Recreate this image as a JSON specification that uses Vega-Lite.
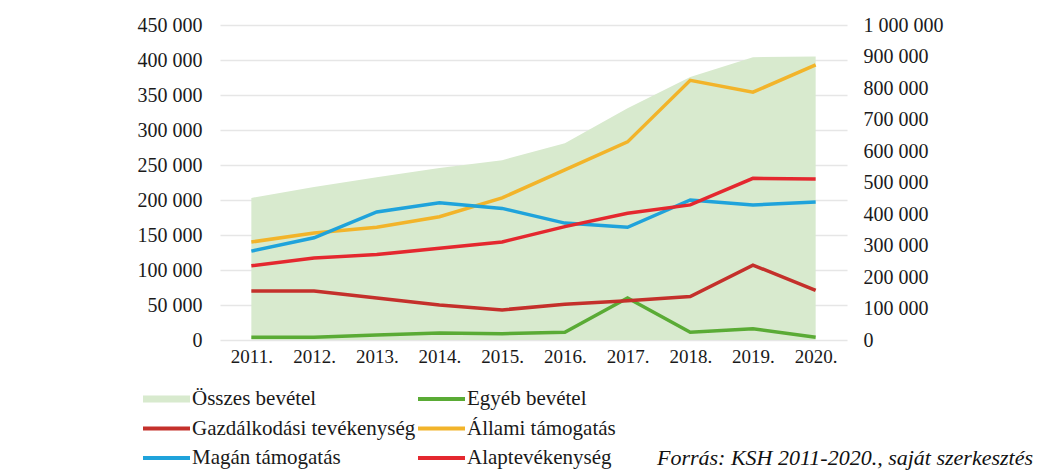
{
  "$schema": "https://vega.github.io/schema/vega-lite/v6.json",
  "width": 627,
  "height": 315,
  "autosize": "none",
  "padding": {"left": 220, "top": 25, "right": 214, "bottom": 131},
  "background": "white",
  "config": {
    "view": {"stroke": null},
    "font": "Liberation Serif",
    "axis": {"labelFont": "Liberation Serif", "labelFontSize": 20, "labelColor": "#1a1a1a", "domain": false, "ticks": false, "title": null}
  },
  "title": {
    "text": "Forrás: KSH 2011-2020., saját szerkesztés",
    "orient": "bottom",
    "anchor": "end",
    "frame": "group",
    "dx": 186,
    "offset": -20,
    "font": "Liberation Serif",
    "fontSize": 22,
    "fontStyle": "italic",
    "fontWeight": "normal",
    "color": "#111111"
  },
  "data": {
    "values": [
      {"year": "2011.", "series": "Összes bevétel", "value": 451000},
      {"year": "2012.", "series": "Összes bevétel", "value": 486000},
      {"year": "2013.", "series": "Összes bevétel", "value": 517000},
      {"year": "2014.", "series": "Összes bevétel", "value": 546000},
      {"year": "2015.", "series": "Összes bevétel", "value": 571000},
      {"year": "2016.", "series": "Összes bevétel", "value": 625000},
      {"year": "2017.", "series": "Összes bevétel", "value": 736000},
      {"year": "2018.", "series": "Összes bevétel", "value": 835000},
      {"year": "2019.", "series": "Összes bevétel", "value": 898000},
      {"year": "2020.", "series": "Összes bevétel", "value": 900000},

      {"year": "2011.", "series": "Egyéb bevétel", "value": 4000},
      {"year": "2012.", "series": "Egyéb bevétel", "value": 4000},
      {"year": "2013.", "series": "Egyéb bevétel", "value": 7000},
      {"year": "2014.", "series": "Egyéb bevétel", "value": 10000},
      {"year": "2015.", "series": "Egyéb bevétel", "value": 9000},
      {"year": "2016.", "series": "Egyéb bevétel", "value": 11000},
      {"year": "2017.", "series": "Egyéb bevétel", "value": 60000},
      {"year": "2018.", "series": "Egyéb bevétel", "value": 11000},
      {"year": "2019.", "series": "Egyéb bevétel", "value": 16000},
      {"year": "2020.", "series": "Egyéb bevétel", "value": 4000},

      {"year": "2011.", "series": "Gazdálkodási tevékenység", "value": 70000},
      {"year": "2012.", "series": "Gazdálkodási tevékenység", "value": 70000},
      {"year": "2013.", "series": "Gazdálkodási tevékenység", "value": 60000},
      {"year": "2014.", "series": "Gazdálkodási tevékenység", "value": 50000},
      {"year": "2015.", "series": "Gazdálkodási tevékenység", "value": 43000},
      {"year": "2016.", "series": "Gazdálkodási tevékenység", "value": 51000},
      {"year": "2017.", "series": "Gazdálkodási tevékenység", "value": 56000},
      {"year": "2018.", "series": "Gazdálkodási tevékenység", "value": 62000},
      {"year": "2019.", "series": "Gazdálkodási tevékenység", "value": 107000},
      {"year": "2020.", "series": "Gazdálkodási tevékenység", "value": 71000},

      {"year": "2011.", "series": "Állami támogatás", "value": 140000},
      {"year": "2012.", "series": "Állami támogatás", "value": 153000},
      {"year": "2013.", "series": "Állami támogatás", "value": 161000},
      {"year": "2014.", "series": "Állami támogatás", "value": 176000},
      {"year": "2015.", "series": "Állami támogatás", "value": 203000},
      {"year": "2016.", "series": "Állami támogatás", "value": 243000},
      {"year": "2017.", "series": "Állami támogatás", "value": 283000},
      {"year": "2018.", "series": "Állami támogatás", "value": 371000},
      {"year": "2019.", "series": "Állami támogatás", "value": 354000},
      {"year": "2020.", "series": "Állami támogatás", "value": 393000},

      {"year": "2011.", "series": "Magán támogatás", "value": 127000},
      {"year": "2012.", "series": "Magán támogatás", "value": 146000},
      {"year": "2013.", "series": "Magán támogatás", "value": 183000},
      {"year": "2014.", "series": "Magán támogatás", "value": 196000},
      {"year": "2015.", "series": "Magán támogatás", "value": 188000},
      {"year": "2016.", "series": "Magán támogatás", "value": 167000},
      {"year": "2017.", "series": "Magán támogatás", "value": 161000},
      {"year": "2018.", "series": "Magán támogatás", "value": 200000},
      {"year": "2019.", "series": "Magán támogatás", "value": 193000},
      {"year": "2020.", "series": "Magán támogatás", "value": 197000},

      {"year": "2011.", "series": "Alaptevékenység", "value": 106000},
      {"year": "2012.", "series": "Alaptevékenység", "value": 117000},
      {"year": "2013.", "series": "Alaptevékenység", "value": 122000},
      {"year": "2014.", "series": "Alaptevékenység", "value": 131000},
      {"year": "2015.", "series": "Alaptevékenység", "value": 140000},
      {"year": "2016.", "series": "Alaptevékenység", "value": 162000},
      {"year": "2017.", "series": "Alaptevékenység", "value": 181000},
      {"year": "2018.", "series": "Alaptevékenység", "value": 193000},
      {"year": "2019.", "series": "Alaptevékenység", "value": 231000},
      {"year": "2020.", "series": "Alaptevékenység", "value": 230000}
    ]
  },
  "encoding": {
    "x": {
      "field": "year",
      "type": "ordinal",
      "scale": {"type": "point", "padding": 0.5},
      "axis": {"labelAngle": 0, "labelPadding": 7, "labelFontSize": 19, "grid": false}
    },
    "color": {
      "field": "series",
      "type": "nominal",
      "scale": {
        "domain": ["Összes bevétel", "Gazdálkodási tevékenység", "Magán támogatás", "Egyéb bevétel", "Állami támogatás", "Alaptevékenység"],
        "range": ["#d8eace", "#c4302b", "#1fa3db", "#5aab35", "#f2b42a", "#e4282f"]
      },
      "legend": {
        "title": null,
        "orient": "none",
        "legendX": -77,
        "legendY": 364,
        "columns": 2,
        "columnPadding": 2,
        "rowPadding": 8.5,
        "clipHeight": 20,
        "symbolSize": 2209,
        "symbolType": "square",
        "labelOffset": 2,
        "labelFont": "Liberation Serif",
        "labelFontSize": 21,
        "labelColor": "#1a1a1a",
        "labelLimit": 400,
        "encode": {
          "symbols": {
            "update": {
              "shape": {"signal": "datum.value === 'Összes bevétel' ? 'M-1,-0.15H1V0.15H-1Z' : 'M-1,-0.085H1V0.085H-1Z'"},
              "fill": {"scale": "color", "field": "value"},
              "fillOpacity": {"value": 1},
              "opacity": {"value": 1},
              "strokeWidth": {"value": 0}
            }
          }
        }
      }
    }
  },
  "layer": [
    {
      "transform": [{"filter": "datum.series === 'Összes bevétel'"}],
      "mark": {"type": "area", "opacity": 1},
      "encoding": {
        "y": {
          "field": "value",
          "type": "quantitative",
          "scale": {"domain": [0, 1000000], "nice": false},
          "axis": {
            "orient": "right",
            "grid": false,
            "labelPadding": 16,
            "values": [0, 100000, 200000, 300000, 400000, 500000, 600000, 700000, 800000, 900000, 1000000],
            "labelExpr": "replace(format(datum.value, ','), regexp(',', 'g'), ' ')"
          }
        }
      }
    },
    {
      "transform": [{"filter": "datum.series !== 'Összes bevétel'"}],
      "mark": {"type": "line", "strokeWidth": 3.5},
      "encoding": {
        "y": {
          "field": "value",
          "type": "quantitative",
          "scale": {"domain": [0, 450000], "nice": false},
          "axis": {
            "orient": "left",
            "grid": true,
            "gridColor": "#e6e6e6",
            "gridWidth": 1.5,
            "labelPadding": 18,
            "values": [0, 50000, 100000, 150000, 200000, 250000, 300000, 350000, 400000, 450000],
            "labelExpr": "replace(format(datum.value, ','), regexp(',', 'g'), ' ')"
          }
        }
      }
    }
  ],
  "resolve": {"scale": {"y": "independent"}}
}
